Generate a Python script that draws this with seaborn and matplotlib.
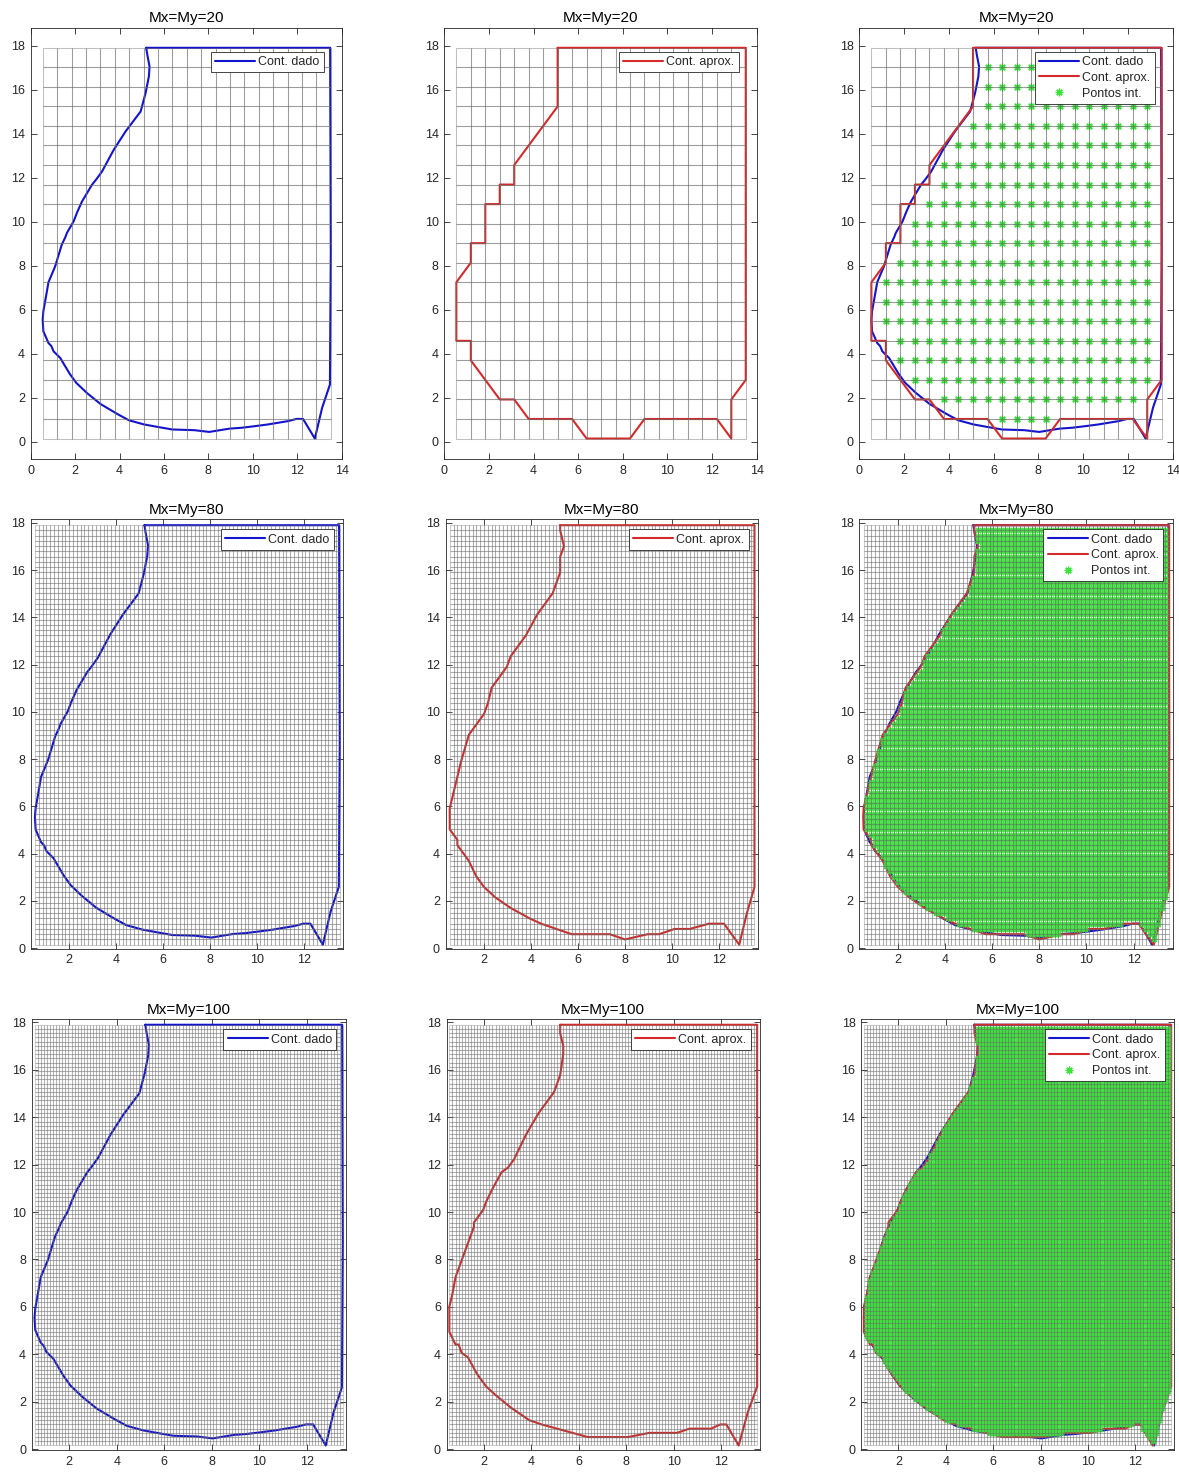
import numpy as np
import matplotlib
matplotlib.use("Agg")
import matplotlib.pyplot as plt
from matplotlib.path import Path
from matplotlib.lines import Line2D
import seaborn as sns

# ---------------- dados ----------------
resolucoes = [20, 80, 100]

# contorno dado, sentido horario a partir do canto sup. esquerdo
cont_x = [5.20, 13.48, 13.51, 13.47, 13.12, 12.79, 12.26, 11.96, 11.58, 10.68,
          10.08, 9.50, 8.95, 8.04, 7.36, 6.38, 5.70, 5.10, 4.42, 3.89,
          3.14, 2.53, 2.05, 1.75, 1.33, 1.03, 0.93, 0.80, 0.57, 0.54,
          0.57, 0.69, 0.80, 1.10, 1.40, 1.56, 1.63, 1.93, 2.10, 2.31,
          2.76, 2.95, 3.21, 3.74, 4.27, 4.95, 5.17, 5.32, 5.35, 5.25,
          5.20]
cont_y = [17.90, 17.90, 8.70, 2.60, 1.55, 0.15, 1.04, 1.04, 0.94, 0.79,
          0.71, 0.64, 0.60, 0.45, 0.53, 0.56, 0.68, 0.79, 0.98, 1.27,
          1.72, 2.22, 2.68, 3.10, 3.81, 4.11, 4.35, 4.49, 5.02, 5.55,
          5.93, 6.61, 7.25, 7.97, 8.96, 9.30, 9.49, 10.01, 10.45, 10.92,
          11.68, 11.92, 12.28, 13.27, 14.10, 15.01, 15.84, 16.60, 17.05, 17.58,
          17.90]

xticks_20 = [0, 2, 4, 6, 8, 10, 12, 14]
xticks_fino = [2, 4, 6, 8, 10, 12]
yticks = [0, 2, 4, 6, 8, 10, 12, 14, 16, 18]

# ---------------- estilo ----------------
sns.set_theme(style="white")
plt.rcParams["font.family"] = ["Liberation Sans", "DejaVu Sans"]
plt.rcParams["axes.linewidth"] = 0.6
plt.rcParams["axes.edgecolor"] = "#262626"

AZUL = "#1414cc"
VERM = "#d42a2a"
VERDE = "#3de23d"
CINZA = (0.42, 0.42, 0.42)
ASTER = (8, 2, 0)

W, H = 1179, 1473
lin_px = [(28, 459), (519.3, 948.7), (1019.3, 1450)]
col_px = [[(30.7, 341.7), (444.3, 756.7), (859.3, 1172.7)],
          [(30.7, 343.3), (445.5, 758.0), (859.3, 1172.7)],
          [(31.7, 345.7), (446.5, 760.0), (861.0, 1174.0)]]
xlims = [(0, 14), (0.36, 13.66), (0.42, 13.63)]
ylims = [(-0.78, 18.8), (-0.02, 18.15), (-0.04, 18.13)]
leg_anchor = [(0.942, 0.945), (0.97, 0.977), (0.97, 0.977)]
ms_pts = [5.5, 5.0, 5.0]
mew_pts = [0.9, 0.8, 0.8]
malha_alpha = [0.42, 0.33, 0.3]


def malha(M):
    xs = np.linspace(min(cont_x), max(cont_x), M + 1)
    ys = np.linspace(min(cont_y), max(cont_y), M + 1)
    return xs, ys


def contorno_aprox(xs, ys):
    # cada ponto do contorno vai para o no mais proximo da malha
    hx, hy = xs[1] - xs[0], ys[1] - ys[0]
    i = np.rint((np.array(cont_x) - xs[0]) / hx).astype(int)
    j = np.rint((np.array(cont_y) - ys[0]) / hy).astype(int)
    keep = np.r_[True, (np.diff(i) != 0) | (np.diff(j) != 0)]
    return xs[i[keep]], ys[j[keep]]


def pontos_interiores(xs, ys, vx, vy):
    XX, YY = np.meshgrid(xs, ys)
    P = np.c_[XX.ravel(), YY.ravel()]
    dentro = Path(np.c_[vx, vy]).contains_points(P)
    # tira os nos que estao sobre o contorno aproximado
    A = np.c_[vx[:-1], vy[:-1]]
    B = np.c_[vx[1:], vy[1:]]
    AB = B - A
    L2 = np.maximum((AB ** 2).sum(1), 1e-12)
    borda = np.zeros(len(P), bool)
    for s in range(len(A)):
        t = np.clip(((P - A[s]) @ AB[s]) / L2[s], 0, 1)
        d = P - (A[s] + t[:, None] * AB[s])
        borda |= (d ** 2).sum(1) < 1e-8
    ok = dentro & ~borda
    return P[ok, 0], P[ok, 1]


def desenha_malha(ax, xs, ys, alpha):
    kw = dict(colors=[CINZA], alpha=alpha, lw=0.75, zorder=5)
    ax.vlines(xs, ys[0], ys[-1], **kw)
    ax.hlines(ys, xs[0], xs[-1], **kw)
    # linhas internas sao desenhadas duas vezes (uma por celula vizinha)
    ax.vlines(xs[1:-1], ys[0], ys[-1], **kw)
    ax.hlines(ys[1:-1], xs[0], xs[-1], **kw)


fig = plt.figure(figsize=(W / 100, H / 100), dpi=100)

for r, M in enumerate(resolucoes):
    xs, ys = malha(M)
    ax_ap, ay_ap = contorno_aprox(xs, ys)
    pix, piy = pontos_interiores(xs, ys, ax_ap, ay_ap)
    top, bot = lin_px[r]
    for c in range(3):
        l, rr = col_px[r][c]
        ax = fig.add_axes([l / W, 1 - bot / H, (rr - l) / W, (bot - top) / H])
        handles = []
        if c in (0, 2):
            sns.lineplot(x=cont_x, y=cont_y, sort=False, estimator=None, color=AZUL,
                         lw=1.5, ax=ax, zorder=2)
            handles.append(Line2D([], [], color=AZUL, lw=1.5, label="Cont. dado"))
        if c in (1, 2):
            sns.lineplot(x=ax_ap, y=ay_ap, sort=False, estimator=None, color=VERM,
                         lw=1.5, ax=ax, zorder=2.5)
            handles.append(Line2D([], [], color=VERM, lw=1.5, label="Cont. aprox."))
        if c == 2:
            ax.plot(pix, piy, ls="none", marker=ASTER, ms=ms_pts[r], mew=mew_pts[r],
                    color=VERDE, zorder=3)
            handles.append(Line2D([], [], ls="none", marker=ASTER, ms=5.5, mew=0.9,
                                  color=VERDE, label="Pontos int."))
        desenha_malha(ax, xs, ys, malha_alpha[r])

        ax.set_xlim(*xlims[r])
        ax.set_ylim(*ylims[r])
        ax.set_xticks(xticks_20 if r == 0 else xticks_fino)
        ax.set_yticks(yticks)
        ax.tick_params(axis="both", which="both", direction="in", length=4, width=0.6,
                       bottom=True, top=True, left=True, right=True, labelsize=9,
                       colors="#262626", pad=4)
        ax.set_xlabel("")
        ax.set_ylabel("")
        ax.set_title(f"Mx=My={M}", fontsize=11, pad=4, color="black")
        leg = ax.legend(handles=handles, loc="upper right", bbox_to_anchor=leg_anchor[r],
                        borderaxespad=0, fontsize=9, handlelength=3.2,
                        handletextpad=0.25, borderpad=0.35, labelspacing=0.3,
                        fancybox=False, framealpha=1, edgecolor="#262626")
        leg.get_frame().set_linewidth(0.6)
        leg.set_zorder(10)

fig.savefig("out.png", dpi=100)
